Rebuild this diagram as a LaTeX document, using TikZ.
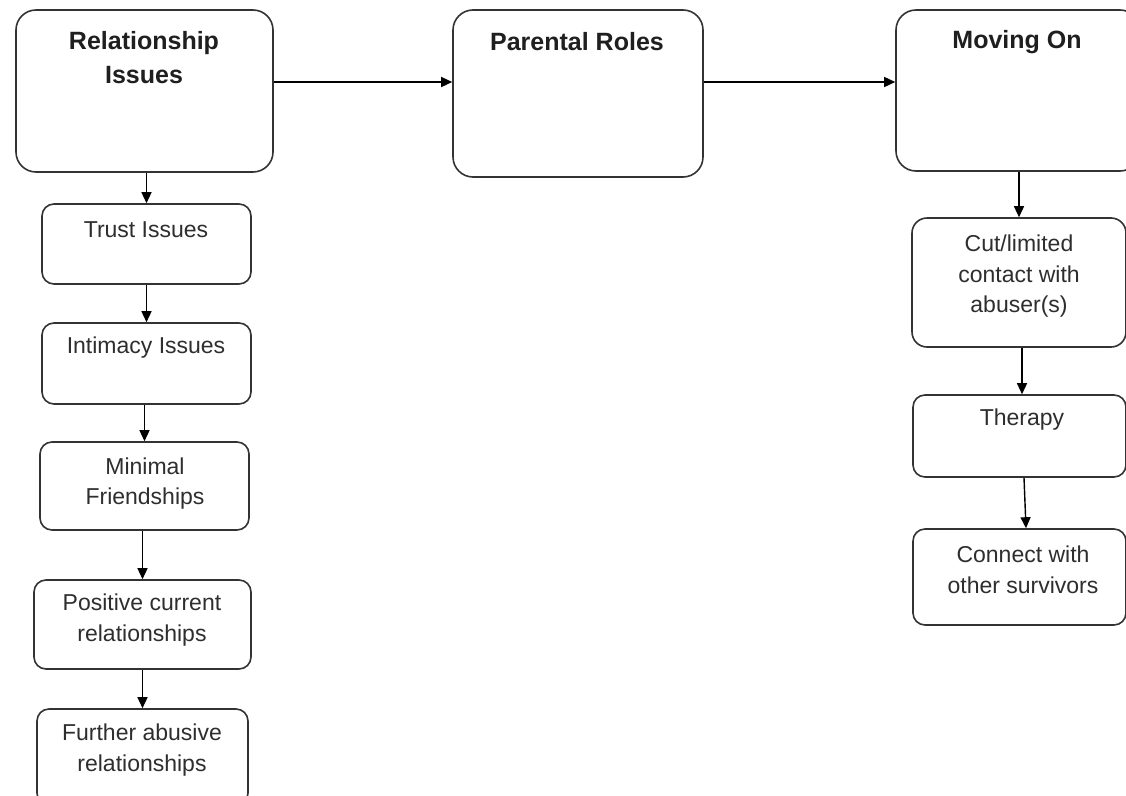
\documentclass[tikz,border=0pt]{standalone}
\usepackage{fontspec}
\setmainfont{Liberation Sans}
\usetikzlibrary{arrows.meta}
\begin{document}
\begin{tikzpicture}[x=1pt,y=-1pt,
  bigbox/.style={draw=black!80,line width=1.6pt,rounded corners=20pt},
  smallbox/.style={draw=black!80,line width=1.6pt,rounded corners=12pt},
  btxt/.style={font=\fontsize{25}{34}\selectfont\bfseries,text=black!88,align=center,inner sep=0pt},
  rtxt/.style={font=\fontsize{23}{30.5}\selectfont,text=black!82,align=center,inner sep=0pt},
  arr/.style={draw=black,line width=1.4pt,-{Triangle[length=11pt,width=10pt]}}]
\useasboundingbox (0,0) rectangle (1126,795);
\fill[white] (0,0) rectangle (1126,795);
% top row
\node[bigbox,minimum width=257pt,minimum height=162pt] (rel) at (144.5,91) {};
\node[bigbox,minimum width=250pt,minimum height=167pt] (par) at (578,93.5) {};
\node[bigbox,minimum width=244pt,minimum height=161pt] (mov) at (1018,90.5) {};
\node[btxt] (relt) at (144,58) {Relationship\\Issues};
\node[btxt] (part) at (577,42) {Parental Roles};
\node[btxt] (movt) at (1017,42) {Moving On};
% left column
\node[smallbox,minimum width=209pt,minimum height=80pt] (trust) at (146.5,244) {};
\node[smallbox,minimum width=209pt,minimum height=81pt] (intim) at (146.5,363.5) {};
\node[smallbox,minimum width=209pt,minimum height=88pt] (minim) at (144.5,486) {};
\node[smallbox,minimum width=217pt,minimum height=89pt] (posit) at (142.5,624.5) {};
\node[smallbox,minimum width=211pt,minimum height=96pt] (furth) at (142.5,757) {};
\node[rtxt] (trustt) at (146,230) {Trust Issues};
\node[rtxt] (intimt) at (146,348) {Intimacy Issues};
\node[rtxt] (minimt) at (145,483.5) {Minimal\\Friendships};
\node[rtxt] (positt) at (142,620) {Positive current\\relationships};
\node[rtxt] (furtht) at (142,750) {Further abusive\\relationships};
% right column
\node[smallbox,rounded corners=15pt,minimum width=214pt,minimum height=129pt] (cut) at (1019,282.5) {};
\node[smallbox,minimum width=213pt,minimum height=82pt] (ther) at (1019.5,436) {};
\node[smallbox,minimum width=213pt,minimum height=96pt] (conn) at (1019.5,577) {};
\node[rtxt] (cutt) at (1019,276.5) {Cut/limited\\contact with\\abuser(s)};
\node[rtxt] (thert) at (1022,420) {Therapy};
\node[rtxt] (connt) at (1023,570) {Connect with\\other survivors};
% connectors
\draw[arr] ([yshift=9pt]rel.east) -- ([yshift=9pt]rel.east -| par.west);
\draw[arr] ([yshift=11.5pt]par.east) -- ([yshift=11.5pt]par.east -| mov.west);
\draw[arr] (trust.north |- rel.south) -- (trust.north);
\draw[arr] (intim.north |- trust.south) -- (intim.north);
\draw[arr] (minim.north |- intim.south) -- (minim.north);
\draw[arr] (posit.north |- minim.south) -- (posit.north);
\draw[arr] (furth.north |- posit.south) -- (furth.north);
\draw[arr] (cut.north |- mov.south) -- (cut.north);
\draw[arr] ([xshift=2.5pt]ther.north |- cut.south) -- ([xshift=2.5pt]ther.north);
\draw[arr] ([xshift=4.5pt]ther.south) -- ([xshift=6.5pt]conn.north);
\end{tikzpicture}
\end{document}
